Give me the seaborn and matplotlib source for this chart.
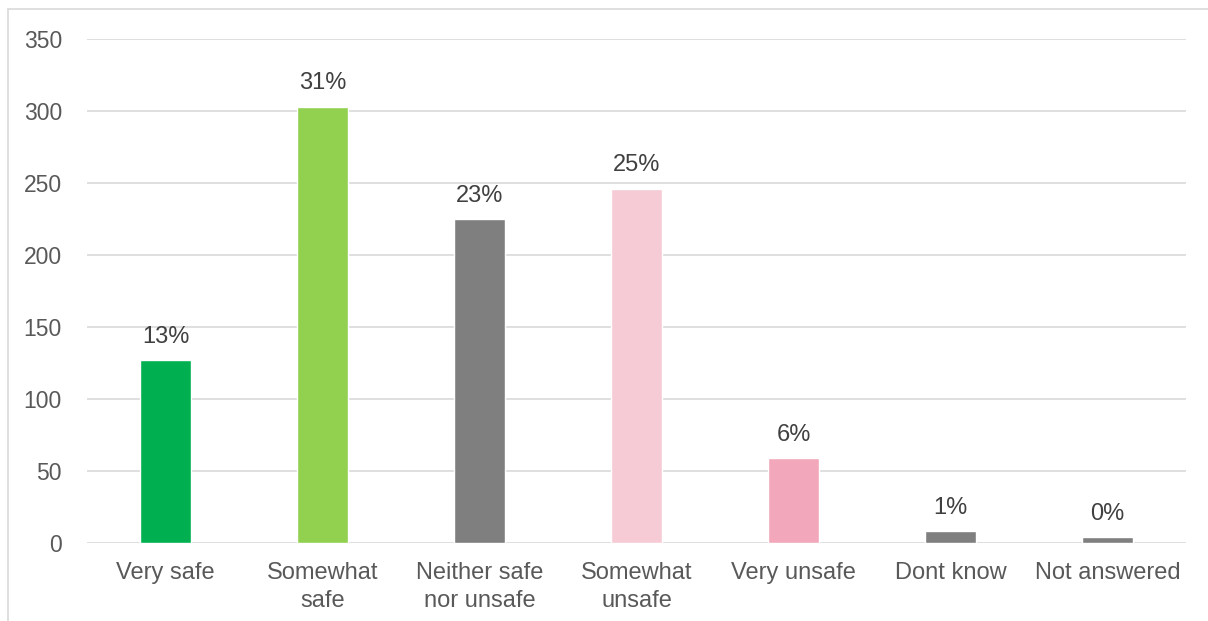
import matplotlib
matplotlib.use("Agg")
import matplotlib.pyplot as plt
import seaborn as sns
import pandas as pd
from matplotlib.patches import Rectangle

categories = ["Very safe", "Somewhat\nsafe", "Neither safe\nnor unsafe", "Somewhat\nunsafe",
              "Very unsafe", "Dont know", "Not answered"]
counts = [127, 303, 225, 246, 59, 8, 4]
colors = ["#00B050", "#92D050", "#7F7F7F", "#F6CBD5", "#F2A8BA", "#7F7F7F", "#7F7F7F"]

total = sum(counts)
percents = [f"{round(c / total * 100):.0f}%" for c in counts]

df = pd.DataFrame({"category": categories, "count": counts})

sns.set_theme(style="white")
plt.rcParams["font.family"] = ["Liberation Sans", "DejaVu Sans"]

fig = plt.figure(figsize=(12.08, 6.21), dpi=100)
ax = fig.add_axes([87 / 1208, 1 - 543 / 621, (1186 - 87) / 1208, (543 - 39) / 621])

sns.barplot(data=df, x="category", y="count", hue="category", palette=colors,
            legend=False, width=0.32, saturation=1, ax=ax, zorder=3)

ax.set_ylim(0, 350)
ax.set_yticks(range(0, 351, 50))
ax.set_xlim(-0.5, len(categories) - 0.5)
ax.grid(axis="y", color="#D9D9D9", linewidth=1.2, zorder=0)
for s in ax.spines.values():
    s.set_visible(False)
ax.set_xlabel("")
ax.set_ylabel("")
ax.tick_params(axis="y", length=0, pad=18, labelsize=16.5, labelcolor="#595959")
ax.tick_params(axis="x", length=0, pad=14, labelsize=17, labelcolor="#595959")
for t in ax.get_xticklabels():
    t.set_linespacing(1.35)

for bar, label in zip(ax.patches, percents):
    ax.annotate(label, (bar.get_x() + bar.get_width() / 2, bar.get_height()),
                xytext=(0, 9), textcoords="offset points", ha="center", va="bottom",
                fontsize=17, color="#404040")

# light chart frame
fig.patches.append(Rectangle((8 / 1208, -0.05), 1.2, 1 - 9 / 621 + 0.05,
                             transform=fig.transFigure, fill=False,
                             edgecolor="#D9D9D9", linewidth=1.2))

fig.savefig("out.png", dpi=100)
